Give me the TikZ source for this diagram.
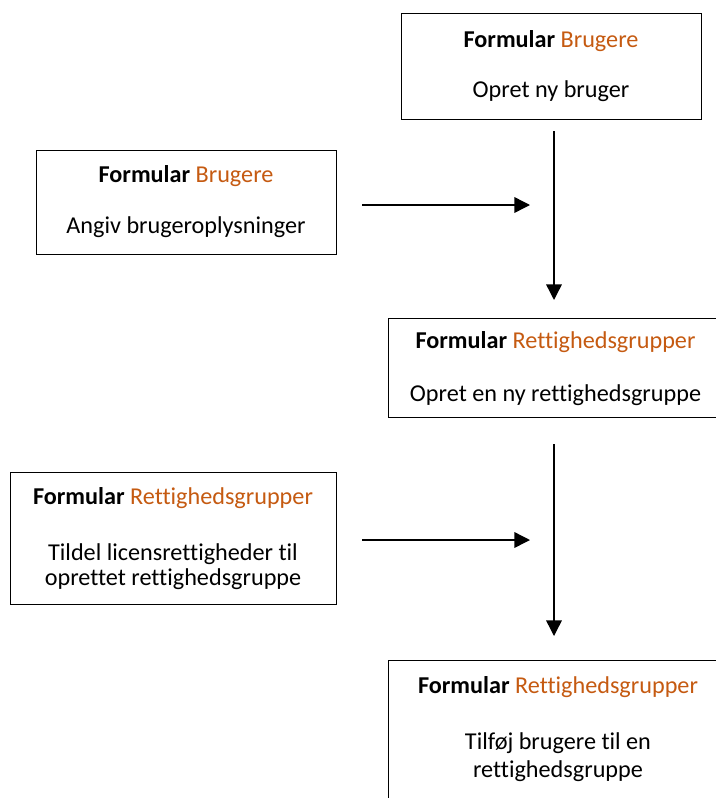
\documentclass[tikz,border=0pt]{standalone}
\usepackage{fontspec}
\setmainfont[Ligatures=NoCommon]{Carlito}
\usetikzlibrary{arrows.meta}
\definecolor{formorange}{HTML}{C55A11}
\begin{document}
\begin{tikzpicture}[x=0.5pt,y=-0.5pt,
  box/.style={draw=black,line width=0.7pt,rectangle,inner sep=0pt,anchor=north west},
  txt/.style={anchor=base,inner sep=0pt,font=\fontsize{12.1}{14}\selectfont},
  flow/.style={line width=0.7pt,-{Triangle[length=7.8pt,width=7.8pt]}}]
\useasboundingbox (0,0) rectangle (716,798);
\clip (0,0) rectangle (716,798);
\newcommand{\ftitle}[1]{\textbf{Formular} \textcolor{formorange}{#1}}
% boxes
\node[box,minimum width=150pt,minimum height=53pt] (b1) at (401,13) {};
\node[box,minimum width=150pt,minimum height=52pt] (b2) at (36,150) {};
\node[box,minimum width=167.5pt,minimum height=49.5pt] (b3) at (388,318) {};
\node[box,minimum width=163pt,minimum height=66pt] (b4) at (10,472) {};
\node[box,minimum width=170pt,minimum height=90pt] (b5) at (388,660) {};
% texts
\node[txt] (t1a) at (551,47) {\ftitle{Brugere}};
\node[txt] (t1b) at (551,97) {Opret ny bruger};
\node[txt] (t2a) at (186,182) {\ftitle{Brugere}};
\node[txt] (t2b) at (186,233) {Angiv brugeroplysninger};
\node[txt] (t3a) at (555.5,348) {\ftitle{Rettighedsgrupper}};
\node[txt] (t3b) at (555.5,401) {Opret en ny rettighedsgruppe};
\node[txt] (t4a) at (173,504) {\ftitle{Rettighedsgrupper}};
\node[txt] (t4b) at (173,560) {Tildel licensrettigheder til};
\node[txt] (t4c) at (173,585) {oprettet rettighedsgruppe};
\node[txt] (t5a) at (558,693) {\ftitle{Rettighedsgrupper}};
\node[txt] (t5b) at (558,749) {Tilføj brugere til en};
\node[txt] (t5c) at (558,777) {rettighedsgruppe};
% arrows
\coordinate (h1s) at (362,205);
\coordinate (h1e) at (530,205);
\coordinate (v1s) at (554,131);
\coordinate (v1e) at (554,300);
\coordinate (h2s) at (362,540);
\coordinate (h2e) at (530,540);
\coordinate (v2s) at (554,444);
\coordinate (v2e) at (554,636);
\draw[flow] (h1s) -- (h1e);
\draw[flow] (v1s) -- (v1e);
\draw[flow] (h2s) -- (h2e);
\draw[flow] (v2s) -- (v2e);
\end{tikzpicture}
\end{document}
